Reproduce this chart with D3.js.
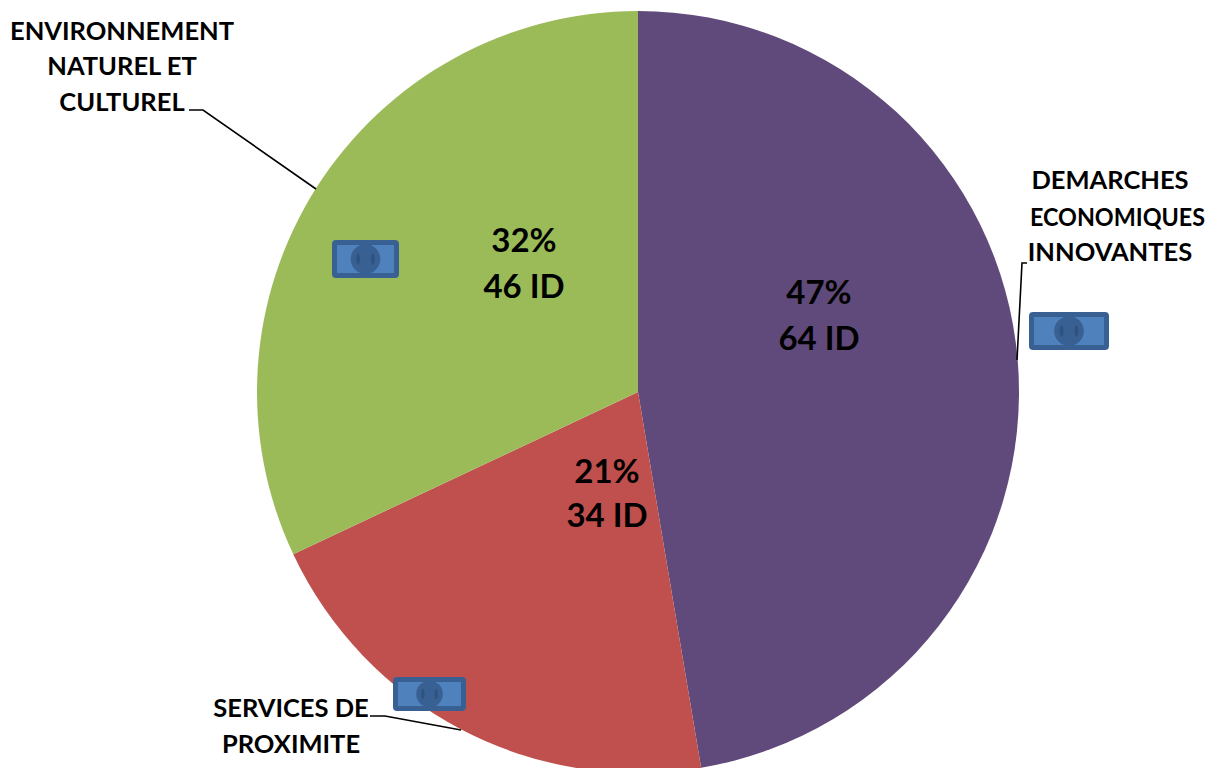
<!DOCTYPE html>
<html><head><meta charset="utf-8">
<script src="https://cdn.jsdelivr.net/npm/d3@7/dist/d3.min.js"></script>
<style>html,body{margin:0;padding:0;background:#fff;overflow:hidden}svg{display:block}text{font-family:Lato,"Open Sans",sans-serif;font-weight:700;fill:#000}</style>
</head><body><svg id="c" width="1208" height="768"></svg>
<script>
const categories=["DEMARCHES ECONOMIQUES INNOVANTES","SERVICES DE PROXIMITE","ENVIRONNEMENT NATUREL ET CULTUREL"];
const sliceShares=[47.35,20.65,32];
const colors=["#604a7b","#c0504d","#9bbb59"];
const percentLabels=["47%","21%","32%"];
const idLabels=["64 ID","34 ID","46 ID"];
const percentPos=[[819,296],[607,475],[524,244]];
const idPos=[[819,342],[607,519],[524,290]];
const nameLines=[["DEMARCHES","ECONOMIQUES","INNOVANTES"],["SERVICES DE","PROXIMITE"],["ENVIRONNEMENT","NATUREL ET","CULTUREL"]];
const namePos=[[[1110,182],[1117.5,219],[1110,254]],[[291,710],[291,746]],[[122,33],[122,68],[122,104]]];
const nameScaleX=[[1,0.915,1],[1,1],[1,1,1]];
const leaders=[[[1027,263],[1022,263],[1017,360]],[[370,716],[385,716],[461,730]],[[189,110],[203,110],[316,189]]];
const notes=[[1029,312,80,38],[393,677,73,34],[332,240,67,38]];
const cx=638,cy=392,R=381;
const svg=d3.select("#c");
const pie=d3.pie().sort(null).value(d=>d)(sliceShares);
const arc=d3.arc().innerRadius(0).outerRadius(R);
svg.append("g").attr("transform",`translate(${cx},${cy})`).selectAll("path").data(pie).join("path")
 .attr("d",arc).attr("fill",(d,i)=>colors[i]);
const line=d3.line();
leaders.forEach(l=>svg.append("path").attr("d",line(l)).attr("fill","none").attr("stroke","#000").attr("stroke-width",1.6));
notes.forEach(([x,y,w,h])=>{
 const g=svg.append("g");
 g.append("rect").attr("x",x+2.5).attr("y",y+2.5).attr("width",w-5).attr("height",h-5).attr("rx",1.5).attr("fill","#4f81bd").attr("stroke","#386092").attr("stroke-width",5);
 const r=h*0.39,mx=x+w/2,my=y+h/2;
 g.append("circle").attr("cx",mx).attr("cy",my).attr("r",r).attr("fill","#386092");
 [-1,1].forEach(s=>g.append("ellipse").attr("cx",mx+s*r*0.5).attr("cy",my).attr("rx",r*0.13).attr("ry",r*0.38).attr("fill","#2f5380"));
});
const bigText=(t,x,y)=>svg.append("text").attr("x",x).attr("y",y).attr("text-anchor","middle").attr("dominant-baseline","middle").attr("font-size",33).text(t);
percentLabels.forEach((t,i)=>bigText(t,percentPos[i][0],percentPos[i][1]));
idLabels.forEach((t,i)=>bigText(t,idPos[i][0],idPos[i][1]));
nameLines.forEach((ls,i)=>ls.forEach((t,j)=>{
 svg.append("text").attr("transform",`translate(${namePos[i][j][0]},${namePos[i][j][1]}) scale(${nameScaleX[i][j]},1)`).attr("text-anchor","middle").attr("dominant-baseline","middle").attr("font-size",25.5).text(t);
}));
</script></body></html>
